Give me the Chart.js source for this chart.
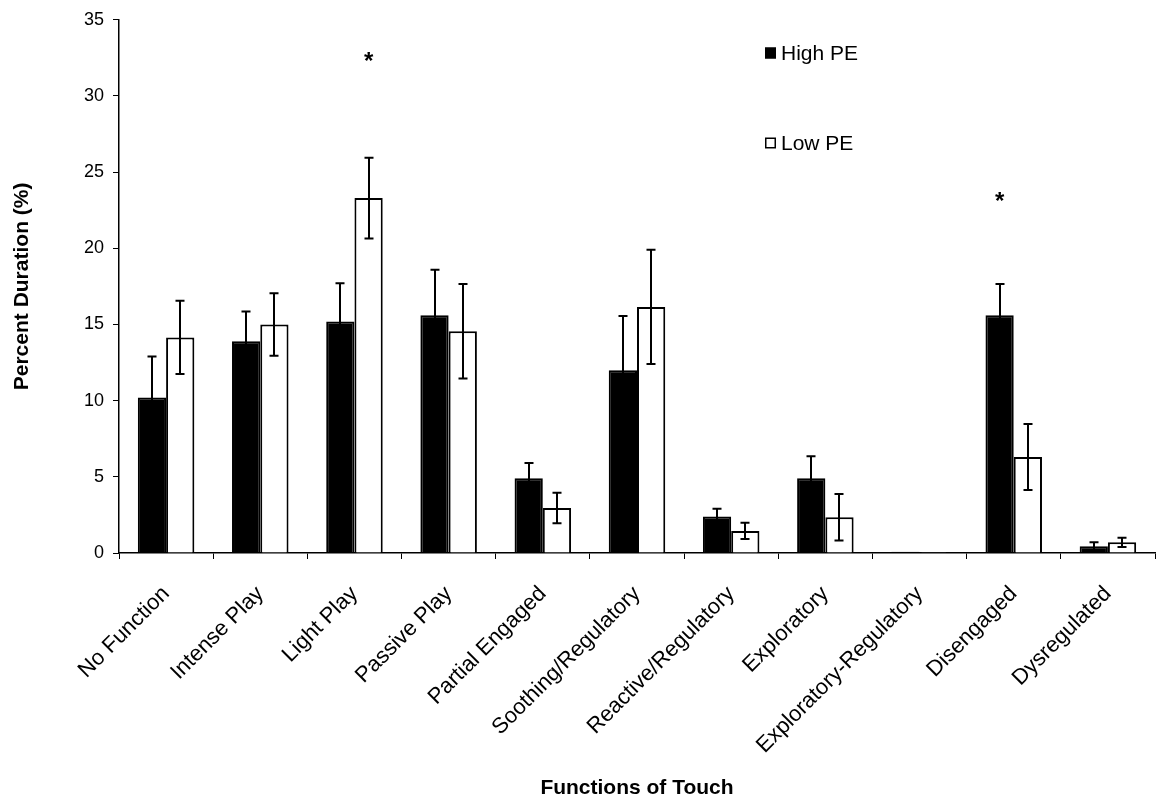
<!DOCTYPE html>
<html>
<head>
<meta charset="utf-8">
<script src="https://cdn.jsdelivr.net/npm/chart.js@4"></script>
<style>
  html, body { margin: 0; padding: 0; background: #fff; }
  #wrap { width: 1166px; height: 803px; }
</style>
</head>
<body>
<div id="wrap"><canvas id="c" width="1166" height="803"></canvas></div>
<script>
const categories = ['No Function', 'Intense Play', 'Light Play', 'Passive Play', 'Partial Engaged',
  'Soothing/Regulatory', 'Reactive/Regulatory', 'Exploratory', 'Exploratory-Regulatory',
  'Disengaged', 'Dysregulated'];
const highPE = [10.2, 13.9, 15.2, 15.6, 4.9, 12.0, 2.4, 4.9, 0.08, 15.6, 0.45];
const highPEErr = [2.7, 1.95, 2.5, 3.0, 1.0, 3.55, 0.5, 1.45, 0, 2.05, 0.25];
const lowPE = [14.15, 15.0, 23.3, 14.55, 2.95, 16.15, 1.45, 2.35, 0.05, 6.3, 0.7];
const lowPEErr = [2.4, 2.05, 2.65, 3.1, 1.0, 3.75, 0.53, 1.53, 0, 2.17, 0.3];
const yTicks = [0, 5, 10, 15, 20, 25, 30, 35];
const starCategories = ['Light Play', 'Disengaged'];
const starSeries = [1, 0];
const starValues = [32.7, 23.5];

const FONT = "'Liberation Sans', Arial, sans-serif";

const errorBars = {
  id: 'errorBars',
  afterDatasetsDraw(chart) {
    const ctx = chart.ctx;
    const y = chart.scales.y;
    const errs = [highPEErr, lowPEErr];
    ctx.save();
    ctx.strokeStyle = '#000';
    ctx.lineWidth = 2;
    chart.data.datasets.forEach((ds, di) => {
      const meta = chart.getDatasetMeta(di);
      meta.data.forEach((bar, i) => {
        const e = errs[di][i];
        if (!e) return;
        const v = ds.data[i];
        const x = Math.round(bar.x);
        const yt = y.getPixelForValue(v + e);
        const yb = y.getPixelForValue(Math.max(0, v - e));
        ctx.beginPath();
        ctx.moveTo(x, yt); ctx.lineTo(x, yb);
        ctx.moveTo(x - 4.5, yt); ctx.lineTo(x + 4.5, yt);
        ctx.moveTo(x - 4.5, yb); ctx.lineTo(x + 4.5, yb);
        ctx.stroke();
      });
    });
    // significance stars
    ctx.fillStyle = '#000';
    ctx.font = "bold 24px " + FONT;
    ctx.textAlign = 'center';
    ctx.textBaseline = 'alphabetic';
    starCategories.forEach((c, k) => {
      const idx = categories.indexOf(c);
      const bar = chart.getDatasetMeta(starSeries[k]).data[idx];
      const py = y.getPixelForValue(starValues[k]);
      ctx.fillText('*', bar.x, py + 14);
    });
    ctx.restore();
  }
};

const customLegend = {
  id: 'customLegend',
  afterDraw(chart) {
    const ctx = chart.ctx;
    const items = chart.data.datasets;
    const pos = [{x: 765, y: 53}, {x: 765, y: 143}];
    ctx.save();
    ctx.font = "21px " + FONT;
    ctx.textBaseline = 'middle';
    ctx.textAlign = 'left';
    items.forEach((ds, i) => {
      const p = pos[i];
      ctx.fillStyle = ds.backgroundColor;
      ctx.fillRect(p.x, p.y - 5.5, 11, 11);
      ctx.strokeStyle = '#000';
      ctx.lineWidth = 1.5;
      ctx.strokeRect(p.x + 0.75, p.y - 4.75, 9.5, 9.5);
      ctx.fillStyle = '#000';
      ctx.fillText(ds.label, p.x + 16, p.y + 1);
    });
    ctx.restore();
  }
};

new Chart(document.getElementById('c'), {
  type: 'bar',
  data: {
    labels: categories,
    datasets: [
      { label: 'High PE', data: highPE, backgroundColor: '#000', borderColor: '#000', borderWidth: 2,
        categoryPercentage: 0.6, barPercentage: 1.0 },
      { label: 'Low PE', data: lowPE, backgroundColor: '#fff', borderColor: '#000', borderWidth: 2,
        categoryPercentage: 0.6, barPercentage: 1.0 }
    ]
  },
  options: {
    responsive: false,
    animation: false,
    devicePixelRatio: 1,
    layout: { padding: { top: 15, right: 11, left: 0, bottom: 0 } },
    plugins: { legend: { display: false }, tooltip: { enabled: false } },
    scales: {
      x: {
        grid: { display: true, drawOnChartArea: false, drawTicks: true, tickLength: 6, color: '#000', offset: true },
        border: { display: true, color: '#000', width: 1.5 },
        ticks: { color: '#000', font: { family: FONT, size: 22 }, minRotation: 45, maxRotation: 45, padding: 22, autoSkip: false },
        title: { display: true, text: 'Functions of Touch', color: '#000', font: { family: FONT, size: 21, weight: 'bold' }, padding: { top: 4, bottom: 2 } },
        afterFit(a) { a.height = 250; }
      },
      y: {
        min: 0, max: 35,
        afterBuildTicks(a) { a.ticks = yTicks.map(v => ({ value: v })); },
        grid: { display: true, drawOnChartArea: false, drawTicks: true, tickLength: 6, color: '#000' },
        border: { display: true, color: '#000', width: 1.5 },
        ticks: { color: '#000', font: { family: FONT, size: 18 }, padding: 9 },
        title: { display: true, text: 'Percent Duration (%)', color: '#000', font: { family: FONT, size: 21, weight: 'bold' }, padding: { top: 10, bottom: 0 } },
        afterFit(a) { a.width = 119; }
      }
    }
  },
  plugins: [errorBars, customLegend]
});
</script>
</body>
</html>
